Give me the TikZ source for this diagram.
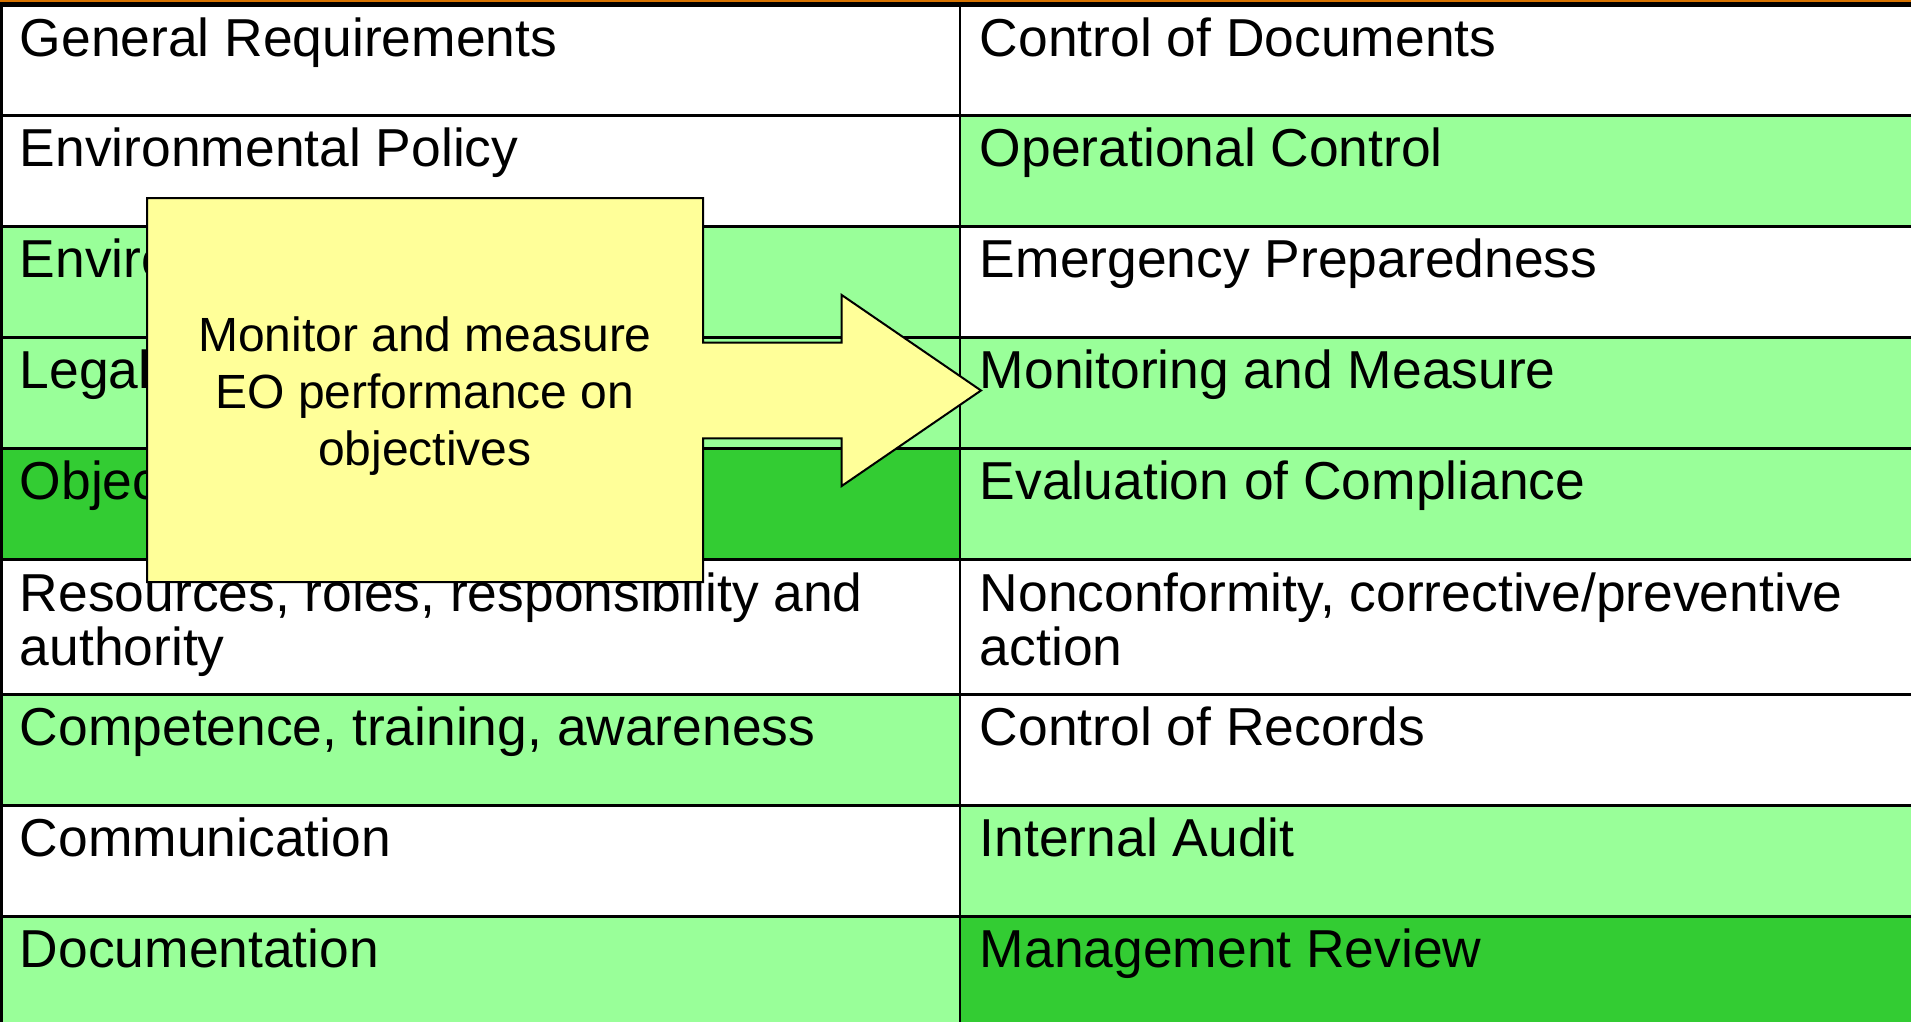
\documentclass[tikz,border=0pt]{standalone}
\usepackage{fontspec}
\setmainfont{Liberation Sans}
\definecolor{lg}{HTML}{99FF99}
\definecolor{dg}{HTML}{33CC33}
\definecolor{yl}{HTML}{FFFF99}
\definecolor{orng}{RGB}{215,115,0}
\begin{document}
\begin{tikzpicture}[x=0.5pt,y=-0.5pt,
  cell/.style={anchor=base west, inner sep=0pt, align=left, font=\fontsize{26.7}{26.65}\selectfont},
  rule/.style={line width=1.25pt, black},
  callout/.style={fill=yl, draw=black, line width=1pt, line join=miter}]
\useasboundingbox (0,0) rectangle (1911,1022);
% row fills
\fill[lg] (0,226.7) rectangle (960,337.6);
\fill[lg] (0,337.6) rectangle (960,448.5);
\fill[dg] (0,448.5) rectangle (960,559.4);
\fill[lg] (0,694.5) rectangle (960,805.6);
\fill[lg] (0,916.6) rectangle (960,1030);
\fill[lg] (960,115.5) rectangle (1911,226.7);
\fill[lg] (960,337.6) rectangle (1911,448.5);
\fill[lg] (960,448.5) rectangle (1911,559.4);
\fill[lg] (960,805.6) rectangle (1911,916.6);
\fill[dg] (960,916.6) rectangle (1911,1030);
% top band
\fill[orng] (0,0) rectangle (1911,1.8);
\fill[black] (0,1.8) rectangle (1911,7);
% grid
\foreach \y in {115.5,226.7,337.6,448.5,559.4,694.5,805.6,916.6}
  \draw[rule] (0,\y) -- (1911,\y);
\draw[rule] (960,7) -- (960,1022);
\draw[line width=1.6pt] (1.6,7) -- (1.6,1022);
% left column texts
\node[cell] (l1) at (19.5,56.7) {General Requirements};
\node[cell] (l2) at (19.5,166.7) {Environmental Policy};
\node[cell] (l3) at (19.5,277.7) {Environmental Aspects};
\node[cell] (l4) at (19.5,388.6) {Legal and Other Requirements};
\node[cell] (l5) at (19.5,499.5) {Objectives and Targets};
\node[cell] (l6) at (19.5,665) {Resources, roles, responsibility and\\authority};
\node[cell] (l7) at (19.5,745.5) {Competence, training, awareness};
\node[cell] (l8) at (19.5,856.6) {Communication};
\node[cell] (l9) at (19.5,967.6) {Documentation};
% right column texts
\node[cell] (r1) at (979.5,56.7) {Control of Documents};
\node[cell] (r2) at (979.5,166.7) {Operational Control};
\node[cell] (r3) at (979.5,277.7) {Emergency Preparedness};
\node[cell] (r4) at (979.5,388.6) {Monitoring and Measure};
\node[cell] (r5) at (979.5,499.5) {Evaluation of Compliance};
\node[cell] (r6) at (979.5,665) {Nonconformity, corrective/preventive\\action};
\node[cell] (r7) at (979.5,745.5) {Control of Records};
\node[cell] (r8) at (979.5,856.6) {Internal Audit};
\node[cell] (r9) at (979.5,967.6) {Management Review};
% callout box with arrow
\draw[callout] (147,198) -- (703,198) -- (703,342.7) -- (841.7,342.7) -- (841.7,295)
  -- (981,390.5) -- (841.7,486) -- (841.7,438.3) -- (703,438.3) -- (703,582)
  -- (147,582) -- cycle;
\node[anchor=base, align=center, inner sep=0pt, font=\fontsize{24}{28.35}\selectfont] (note) at (425,465)
  {Monitor and measure\\EO performance on\\objectives};
\end{tikzpicture}
\end{document}
